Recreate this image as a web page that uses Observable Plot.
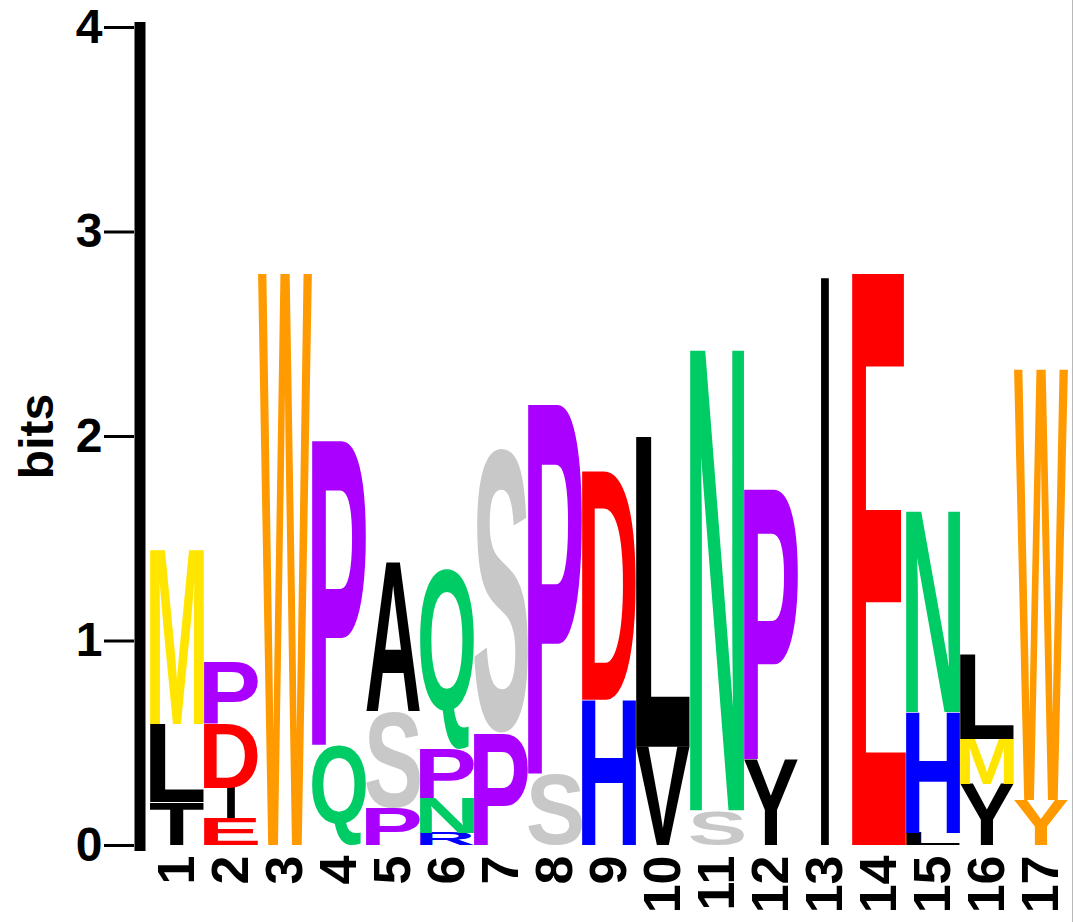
<!DOCTYPE html>
<html>
<head>
<meta charset="utf-8">
<script src="https://cdn.jsdelivr.net/npm/d3@7"></script>
<script src="https://cdn.jsdelivr.net/npm/@observablehq/plot@0.6"></script>
<style>
  html, body { margin: 0; padding: 0; background: #fff; }
  #chart { width: 1072px; height: 922px; border-right: 1px solid #b8b8b8; overflow: hidden; }
</style>
</head>
<body>
<div id="chart"></div>
<script>
const positions = [1, 2, 3, 4, 5, 6, 7, 8, 9, 10, 11, 12, 13, 14, 15, 16, 17];

// letters stacked bottom -> top at each position
const stackLetters = [
  ["T", "L", "M"],
  ["E", "I", "D", "P"],
  ["W"],
  ["Q", "P"],
  ["P", "S", "A"],
  ["R", "N", "P", "Q"],
  ["P", "S"],
  ["S", "P"],
  ["H", "D"],
  ["V", "L"],
  ["S", "N"],
  ["Y", "P"],
  ["I"],
  ["E"],
  ["L", "H", "N"],
  ["Y", "M", "L"],
  ["Y", "W"]
];

// height (bits) of each letter, same order
const stackBits = [
  [0.21, 0.38, 0.86],
  [0.13, 0.15, 0.31, 0.30],
  [2.80],
  [0.49, 1.50],
  [0.18, 0.47, 0.73],
  [0.06, 0.17, 0.24, 0.88],
  [0.55, 1.39],
  [0.35, 1.82],
  [0.71, 1.12],
  [0.48, 1.52],
  [0.17, 2.27],
  [0.42, 1.33],
  [2.80],
  [2.80],
  [0.06, 0.59, 0.99],
  [0.30, 0.22, 0.41],
  [0.22, 2.11]
];

const yTicks = [0, 1, 2, 3, 4];
const yLabel = "bits";

// colour scheme
const residueColor = {
  M: "#FFE500", P: "#AA00FF", D: "#FF0000", E: "#FF0000", W: "#FF9A00",
  Q: "#00CC66", N: "#00CC66", S: "#C8C8C8", H: "#0000FF", R: "#0000FF",
  A: "#000000", L: "#000000", T: "#000000", I: "#000000", V: "#000000", Y: "#000000"
};
const recolored = [{position: 17, letter: "Y", color: "#FF9A00"}];

// ---- build the table ----
const rows = [];
positions.forEach((pos, i) => {
  let acc = 0;
  stackLetters[i].forEach((letter, j) => {
    const h = stackBits[i][j];
    const over = recolored.find(r => r.position === pos && r.letter === letter);
    rows.push({pos, letter, y0: acc, y1: acc + h, color: over ? over.color : residueColor[letter]});
    acc += h;
  });
});

// ---- glyph ink metrics ----
const FONT = "Liberation Sans";
const FS = 200;
const ctx = document.createElement("canvas").getContext("2d");
ctx.font = `bold ${FS}px "${FONT}"`;
ctx.textAlign = "left";
ctx.textBaseline = "alphabetic";
const metricCache = {};
function metrics(ch) {
  if (!metricCache[ch]) {
    const m = ctx.measureText(ch);
    metricCache[ch] = {
      left: m.actualBoundingBoxLeft,
      ascent: m.actualBoundingBoxAscent,
      w: m.actualBoundingBoxLeft + m.actualBoundingBoxRight,
      h: m.actualBoundingBoxAscent + m.actualBoundingBoxDescent
    };
  }
  return metricCache[ch];
}
const narrowLetters = {I: 0.15};

// custom mark: each letter stretched to fill its cell, placed with Plot's scales
function letterStack(index, scales, values, dimensions) {
  const x = scales.x, y = scales.y;
  const bw = typeof x.bandwidth === "function" ? x.bandwidth()
    : (dimensions.width - dimensions.marginLeft - dimensions.marginRight) / positions.length;
  const g = d3.create("svg:g").attr("class", "logo-letters");
  for (const r of rows) {
    const m = metrics(r.letter);
    const w = bw * (narrowLetters[r.letter] || 1);
    const x0 = x(r.pos) + (bw - w) / 2;
    const yt = y(r.y1), yb = y(r.y0);
    const sx = w / m.w, sy = (yb - yt) / m.h;
    g.append("text")
      .attr("font-family", FONT)
      .attr("font-weight", "bold")
      .attr("font-size", FS)
      .attr("text-anchor", "start")
      .attr("fill", r.color)
      .attr("transform", `translate(${x0},${yt}) scale(${sx},${sy}) translate(${m.left},${m.ascent})`)
      .text(r.letter);
  }
  return g.node();
}

const plot = Plot.plot({
  width: 1072,
  height: 922,
  marginLeft: 147,
  marginRight: 1,
  marginTop: 27,
  marginBottom: 77,
  style: {fontFamily: FONT, color: "#000", background: "#fff"},
  x: {type: "band", domain: positions, padding: 0},
  y: {domain: [0, 4]},
  marks: [
    Plot.axisY({ticks: yTicks, tickFormat: d => String(d), tickSize: 30, tickPadding: 2, strokeWidth: 3, dx: -13,
      fontSize: 48, fontWeight: "bold", label: null}),
    Plot.axisY({ticks: [], label: yLabel, labelAnchor: "center", labelArrow: "none",
      labelOffset: 129, fontSize: 48, fontWeight: "bold"}),
    Plot.axisX({tickRotate: -90, tickSize: 0, tickPadding: 10, fontSize: 52, fontWeight: "bold", label: null}),
    Plot.frame({anchor: "left", strokeWidth: 11, dx: -7.5}),
    letterStack
  ]
});
document.getElementById("chart").appendChild(plot);
</script>
</body>
</html>
